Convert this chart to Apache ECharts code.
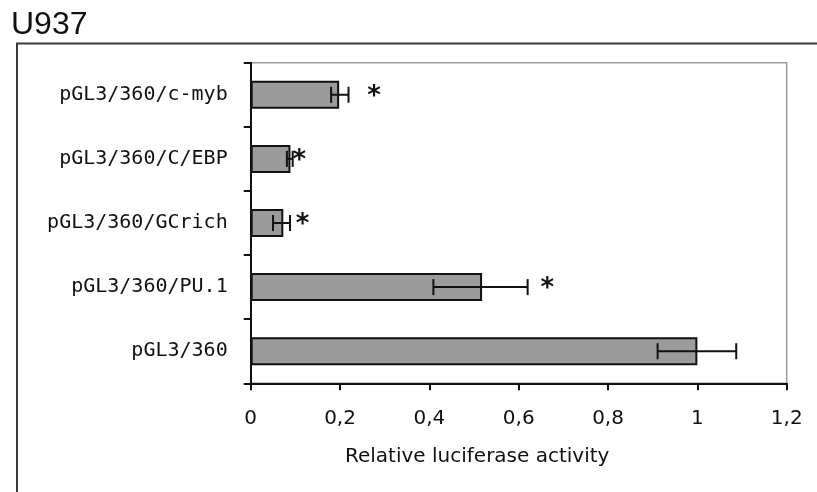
<!DOCTYPE html>
<html>
<head>
<meta charset="utf-8">
<script src="https://cdn.jsdelivr.net/npm/echarts@6/dist/echarts.min.js"></script>
<style>
html,body{margin:0;padding:0;background:#fff;}
#chart{width:817px;height:492px;}
</style>
</head>
<body>
<div id="chart"></div>
<script>
// ---- data ----
var categories = ['pGL3/360', 'pGL3/360/PU.1', 'pGL3/360/GCrich', 'pGL3/360/C/EBP', 'pGL3/360/c-myb'];
var values     = [1.0, 0.518, 0.073, 0.089, 0.198];
var errLow     = [0.911, 0.409, 0.050, 0.081, 0.180];
var errHigh    = [1.087, 0.620, 0.088, 0.094, 0.219];
var starAt     = [null, 0.664, 0.116, 0.109, 0.276];
var xTickLabels = ['0', '0,2', '0,4', '0,6', '0,8', '1', '1,2'];
var chartTitle = 'U937';
var xAxisTitle = 'Relative luciferase activity';

var errData = categories.map(function (c, i) {
  return [i, errLow[i], errHigh[i], starAt[i] == null ? -1 : starAt[i]];
});

var chart = echarts.init(document.getElementById('chart'), null, {renderer: 'canvas'});
chart.setOption({
  backgroundColor: '#fff',
  animation: false,
  graphic: [
    {type: 'rect', x: 17, y: 43.5, shape: {x: 0, y: 0, width: 900, height: 600},
     style: {fill: 'none', stroke: '#3a3a3a', lineWidth: 2}, z: 0},
    {type: 'text', x: 11, y: 25,
     style: {text: chartTitle, font: '32px "Liberation Sans", Arial, sans-serif', fill: '#111', verticalAlign: 'middle', align: 'left'}}
  ],
  grid: {left: 250.7, right: 30.3, top: 62.7, bottom: 108.7, show: true, borderColor: '#9a9a9a', borderWidth: 1.5, backgroundColor: 'transparent'},
  xAxis: {
    type: 'value', min: 0, max: 1.2, interval: 0.2,
    splitLine: {show: false},
    axisLine: {show: true, lineStyle: {color: '#111', width: 2}},
    axisTick: {show: true, inside: false, length: 7, lineStyle: {color: '#111', width: 2}},
    axisLabel: {
      margin: 25, color: '#111', fontSize: 20, fontFamily: '"DejaVu Sans", sans-serif',
      formatter: function (v) { return xTickLabels[Math.round(v / 0.2)]; }
    },
    name: xAxisTitle, nameLocation: 'middle', nameGap: 63,
    nameTextStyle: {color: '#111', fontSize: 20, fontFamily: '"DejaVu Sans", sans-serif', padding: [0, 83, 0, 0]}
  },
  yAxis: {
    type: 'category', data: categories,
    axisLine: {show: true, lineStyle: {color: '#111', width: 2}},
    axisTick: {show: true, inside: false, length: 7, lineStyle: {color: '#111', width: 2}},
    axisLabel: {margin: 23, color: '#111', fontSize: 20, fontFamily: '"DejaVu Sans Mono", monospace'},
    splitLine: {show: false}
  },
  series: [
    {
      type: 'bar', data: values, barWidth: 28,
      itemStyle: {color: '#9b9b9b', borderColor: '#111', borderWidth: 2},
      z: 2
    },
    {
      type: 'custom', data: errData, z: 5,
      encode: {x: [1, 2], y: 0},
      renderItem: function (params, api) {
        var yi = api.value(0);
        var lo = api.coord([api.value(1), yi]);
        var hi = api.coord([api.value(2), yi]);
        var cy = lo[1];
        var h = 8;
        var st = {stroke: '#111', lineWidth: 2};
        var children = [
          {type: 'line', shape: {x1: lo[0], y1: cy, x2: hi[0], y2: cy}, style: st},
          {type: 'line', shape: {x1: lo[0], y1: cy - h, x2: lo[0], y2: cy + h}, style: st},
          {type: 'line', shape: {x1: hi[0], y1: cy - h, x2: hi[0], y2: cy + h}, style: st}
        ];
        if (api.value(3) >= 0) {
          var sp = api.coord([api.value(3), yi]);
          children.push({type: 'text', x: sp[0], y: sp[1] + 2,
            style: {text: '*', font: 'bold 26px "DejaVu Sans", sans-serif', fill: '#111', align: 'center', verticalAlign: 'middle'}});
        }
        return {type: 'group', children: children};
      }
    }
  ]
});
</script>
</body>
</html>
